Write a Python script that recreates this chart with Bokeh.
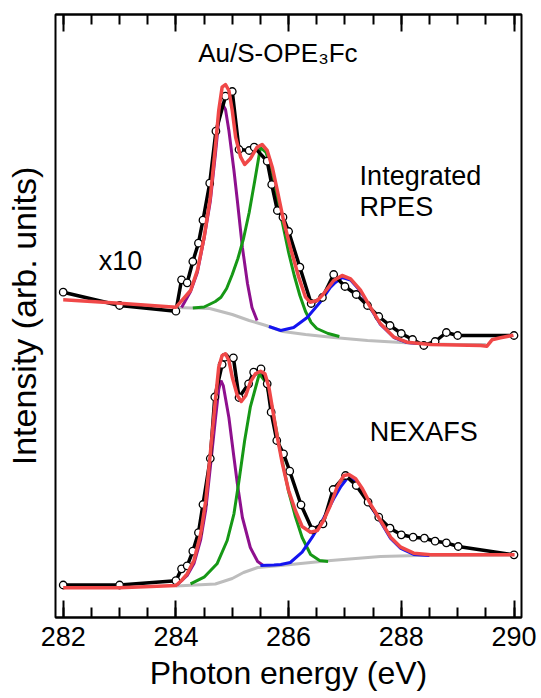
from bokeh.plotting import figure
from bokeh.models import Range1d, LinearAxis, SingleIntervalTicker, FixedTicker, Label
from bokeh.embed import file_html
from bokeh.resources import INLINE

# ---------------- data (photon energy in eV, intensity in arb. units) ----------------
# Integrated RPES (x10): measured points
rpes_e = [282.0, 283.0, 284.0, 284.1, 284.2, 284.3, 284.4, 284.48, 284.6, 284.71, 284.88, 285.0,
          285.12, 285.3, 285.39, 285.62, 285.7, 285.8, 285.9, 286.0, 286.2, 286.4, 286.6, 286.8,
          287.0, 287.2, 287.4, 287.6, 287.8, 288.0, 288.2, 288.4, 288.6, 288.8, 289.0, 290.0]
rpes_i = [325.3, 312.0, 306.3, 337.7, 334.7, 356.0, 374.3, 397.3, 434.3, 486.3, 521.3, 526.0,
          468.0, 467.0, 470.3, 456.3, 433.0, 407.0, 400.3, 386.0, 350.3, 314.0, 320.0, 343.0,
          331.0, 323.0, 312.0, 301.0, 292.0, 284.0, 278.0, 272.0, 276.0, 285.0, 282.0, 282.0]
# Integrated RPES: total fit
rpes_fit_e = [282.0, 283.0, 284.0, 284.08, 284.26, 284.38, 284.5, 284.61, 284.7, 284.76, 284.82,
              284.88, 284.94, 285.0, 285.06, 285.15, 285.22, 285.32, 285.44, 285.53, 285.62,
              285.71, 285.8, 285.91, 286.03, 286.18, 286.3, 286.38, 286.51, 286.62, 286.8,
              286.95, 287.1, 287.28, 287.45, 287.63, 287.87, 288.1, 288.52, 289.41, 289.52,
              289.61, 289.76, 289.99]
rpes_fit_i = [317.7, 314.3, 310.3, 315.3, 327.0, 347.0, 380.3, 420.3, 470.3, 507.0, 530.3,
              533.0, 527.0, 507.0, 480.3, 460.3, 453.0, 458.7, 470.3, 473.0, 467.0,
              450.3, 427.0, 397.0, 370.3, 340.3, 320.3, 315.3, 317.0, 323.7, 337.0,
              342.0, 338.7, 327.0, 310.3, 293.7, 280.3, 275.3, 273.0, 272.0, 271.3,
              277.7, 279.7, 282.3]
# Integrated RPES: background
rpes_bg_e = [284.0, 284.6, 284.8, 285.0, 285.3, 285.6, 285.9, 286.3, 286.8, 287.4, 288.0, 288.5, 289.0, 289.5]
rpes_bg_i = [310.0, 309.0, 306.0, 303.0, 297.0, 292.0, 286.0, 283.0, 280.0, 277.0, 275.0, 273.5, 273.0, 273.0]
# Integrated RPES: component peaks (on background)
rpes_p1_e = [284.1, 284.26, 284.38, 284.5, 284.61, 284.7, 284.76, 284.82, 284.88, 284.94, 285.03,
             285.09, 285.18, 285.27, 285.35, 285.44]
rpes_p1_i = [310.0, 326.0, 345.0, 379.0, 416.0, 463.0, 497.0, 514.0, 508.0, 487.0, 447.0,
             417.0, 370.0, 334.0, 310.0, 297.0]
rpes_p2_e = [284.3, 284.5, 284.7, 284.8, 284.9, 285.0, 285.1, 285.2, 285.3, 285.4, 285.5, 285.6,
             285.7, 285.8, 285.9, 286.0, 286.1, 286.2, 286.3, 286.4, 286.5, 286.7, 286.9]
rpes_p2_i = [309.5, 310.5, 316.0, 320.3, 329.0, 343.0, 359.0, 379.0, 405.0, 437.0, 470.0, 465.0,
             447.0, 419.0, 392.0, 365.0, 342.0, 322.0, 306.0, 295.0, 289.0, 284.0, 281.0]
rpes_p3_e = [285.65, 285.86, 286.09, 286.33, 286.57, 286.74, 286.83, 286.95, 287.1, 287.28,
             287.45, 287.63, 287.87, 288.1, 288.4]
rpes_p3_i = [291.0, 287.0, 290.0, 300.0, 316.0, 330.0, 335.0, 340.0, 337.5, 326.0,
             309.5, 293.0, 280.0, 275.0, 273.5]

# NEXAFS: measured points
nex_e = [282.0, 283.0, 284.0, 284.1, 284.2, 284.3, 284.4, 284.48, 284.61, 284.69, 284.82, 284.87,
         285.02, 285.12, 285.29, 285.38, 285.51, 285.62, 285.69, 285.79, 285.91, 286.02, 286.22,
         286.42, 286.61, 286.79, 287.01, 287.2, 287.41, 287.6, 287.8, 288.0, 288.21, 288.41,
         288.6, 288.8, 289.01, 290.0]
nex_i = [32.5, 32.5, 36.8, 48.7, 51.7, 66.3, 84.8, 113.0, 159.0, 220.5, 253.0, 260.3,
         259.7, 220.0, 233.7, 245.3, 248.7, 233.7, 205.3, 177.0, 163.7, 146.3, 112.7,
         87.7, 93.7, 128.0, 142.0, 132.0, 115.3, 100.3, 89.3, 82.7, 80.3, 79.3,
         76.3, 74.7, 71.0, 62.7]
# NEXAFS: total fit
nex_fit_e = [282.0, 283.0, 284.0, 284.1, 284.2, 284.32, 284.44, 284.53, 284.61, 284.7, 284.76,
             284.82, 284.88, 284.94, 285.0, 285.09, 285.16, 285.24, 285.32, 285.41, 285.5,
             285.58, 285.65, 285.71, 285.8, 285.89, 286.0, 286.12, 286.24, 286.39, 286.51,
             286.62, 286.74, 286.86, 286.98, 287.07, 287.19, 287.31, 287.45, 287.63, 287.81,
             287.99, 288.22, 288.52, 290.01]
nex_fit_i = [29.7, 29.7, 32.0, 37.0, 43.7, 57.0, 83.7, 117.0, 163.7, 217.0, 250.3,
             262.0, 263.7, 257.0, 240.3, 222.0, 216.0, 222.0, 235.3, 243.7, 246.3,
             243.7, 230.3, 210.3, 180.3, 153.7, 127.0, 107.0, 91.0, 85.3, 87.0,
             97.0, 112.0, 130.3, 142.0, 143.0, 138.7, 128.7, 113.7, 97.0, 80.3,
             70.3, 64.3, 62.7, 62.7]
# NEXAFS: background
nex_bg_e = [284.0, 284.7, 285.0, 285.2, 285.45, 285.86, 286.75, 287.63, 288.3, 290.0]
nex_bg_i = [31.5, 33.5, 39.0, 45.0, 50.0, 52.0, 57.0, 61.0, 62.0, 62.5]
# NEXAFS: component peaks (on background)
nex_p1_e = [284.02, 284.2, 284.32, 284.44, 284.53, 284.61, 284.7, 284.76, 284.8, 284.84, 284.94,
            285.03, 285.09, 285.18, 285.32, 285.45, 285.55]
nex_p1_i = [32.5, 42.0, 54.0, 78.0, 108.0, 150.0, 198.0, 228.0, 237.0, 232.0, 200.0,
            160.0, 134.0, 100.0, 70.0, 56.0, 52.0]
nex_p2_e = [284.26, 284.5, 284.73, 284.91, 285.03, 285.12, 285.22, 285.32, 285.48, 285.6, 285.7,
            285.8, 285.9, 286.0, 286.12, 286.24, 286.39, 286.55, 286.7]
nex_p2_i = [33.7, 40.3, 53.7, 77.0, 103.7, 137.0, 177.0, 210.3, 243.7, 235.0, 212.0,
            182.0, 153.0, 126.0, 101.0, 80.0, 63.0, 57.0, 56.0]
nex_p3_e = [285.5, 285.74, 285.86, 286.03, 286.24, 286.42, 286.6, 286.8, 286.92, 287.05, 287.19,
            287.31, 287.45, 287.63, 287.81, 287.99, 288.22, 288.5]
nex_p3_i = [52.0, 52.5, 53.0, 55.0, 65.3, 80.3, 97.0, 118.7, 130.3, 140.0, 137.0,
            127.0, 112.0, 96.0, 79.0, 69.0, 63.0, 62.0]

# ---------------- styling ----------------
FONT = "Liberation Sans"
RED = "#f04848"
PURPLE = "#8e108e"
GREEN = "#169816"
BLUE = "#1414f0"
GRAY = "#bdbdbd"

p = figure(width=541, height=698, output_backend="svg", toolbar_location=None,
           x_range=Range1d(281.863, 290.133), y_range=Range1d(0, 603),
           x_axis_location=None, y_axis_location=None,
           min_border_left=55, min_border_right=20, min_border_top=14, min_border_bottom=81)
p.grid.visible = False
p.outline_line_color = "black"
p.outline_line_width = 2
p.outline_line_alpha = 1.0
p.background_fill_color = "white"
p.border_fill_color = "white"

def style_x_axis(ax):
    ax.major_tick_in = 17
    ax.major_tick_out = 0
    ax.minor_tick_in = 10
    ax.minor_tick_out = 0
    ax.major_tick_line_width = 2
    ax.minor_tick_line_width = 2
    ax.major_tick_line_color = "black"
    ax.minor_tick_line_color = "black"
    ax.axis_line_width = 2
    ax.axis_line_color = "black"

xb = LinearAxis(ticker=SingleIntervalTicker(interval=2, num_minor_ticks=4),
                axis_label="Photon energy (eV)")
style_x_axis(xb)
xb.major_label_text_font = FONT
xb.major_label_text_font_size = "27px"
xb.major_label_text_color = "black"
xb.major_label_standoff = 9
xb.axis_label_text_font = FONT
xb.axis_label_text_font_size = "32px"
xb.axis_label_text_font_style = "normal"
xb.axis_label_text_color = "black"
xb.axis_label_standoff = 6
p.add_layout(xb, "below")

# top axis: ticks only, no labels
xt = LinearAxis(ticker=SingleIntervalTicker(interval=2, num_minor_ticks=4))
style_x_axis(xt)
xt.major_label_text_font_size = "0px"
xt.major_label_text_color = None
xt.major_label_standoff = 0
p.add_layout(xt, "above")

yl = LinearAxis(ticker=FixedTicker(ticks=[]), axis_label="Intensity (arb. units)")
yl.axis_line_color = None
yl.major_tick_in = 0
yl.major_tick_out = 0
yl.minor_tick_in = 0
yl.minor_tick_out = 0
yl.major_label_standoff = 0
yl.axis_label_text_font = FONT
yl.axis_label_text_font_size = "34px"
yl.axis_label_text_font_style = "normal"
yl.axis_label_text_color = "black"
yl.axis_label_standoff = 13
p.add_layout(yl, "left")

# backgrounds and components
for e, i in [(rpes_bg_e, rpes_bg_i), (nex_bg_e, nex_bg_i)]:
    p.line(e, i, line_color=GRAY, line_width=3)
for e, i, c in [(rpes_p1_e, rpes_p1_i, PURPLE), (rpes_p2_e, rpes_p2_i, GREEN), (rpes_p3_e, rpes_p3_i, BLUE),
                (nex_p1_e, nex_p1_i, PURPLE), (nex_p2_e, nex_p2_i, GREEN), (nex_p3_e, nex_p3_i, BLUE)]:
    p.line(e, i, line_color=c, line_width=3)

# measured data
for e, i in [(rpes_e, rpes_i), (nex_e, nex_i)]:
    p.line(e, i, line_color="black", line_width=3.5)
    p.scatter(e, i, marker="circle", size=7.5, fill_color="white", line_color="black", line_width=1.3)

# total fits
for e, i in [(rpes_fit_e, rpes_fit_i), (nex_fit_e, nex_fit_i)]:
    p.line(e, i, line_color=RED, line_width=3.5, line_join="round")

# annotations
def add_text(x, y, t, size="27px", align="left"):
    p.add_layout(Label(x=x, y=y, text=t, text_font=FONT, text_font_size=size,
                       text_color="black", text_align=align, text_baseline="alphabetic"))

add_text(285.81, 565, "Au/S-OPE\u2083Fc", size="26px", align="center")
add_text(282.63, 357, "x10")
add_text(287.26, 442, "Integrated")
add_text(287.26, 411, "RPES")
add_text(287.44, 186, "NEXAFS")

open("out.html", "w").write(file_html(p, INLINE))
